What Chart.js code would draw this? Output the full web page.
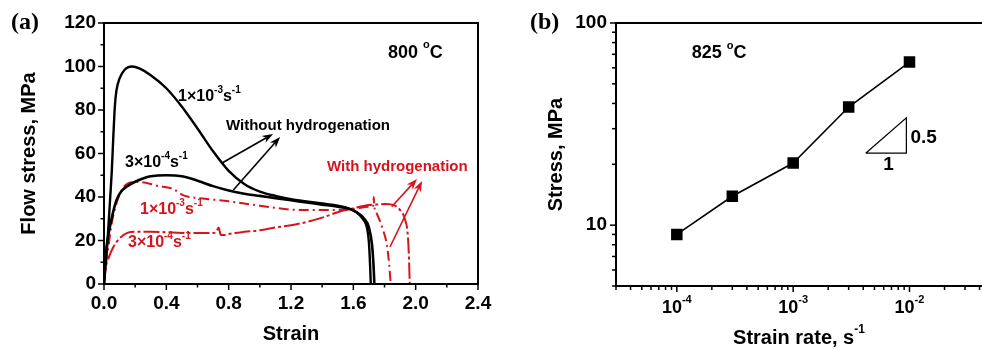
<!DOCTYPE html>
<html>
<head>
<meta charset="utf-8">
<script src="https://cdn.jsdelivr.net/npm/chart.js@4"></script>
<style>
  html, body { margin: 0; padding: 0; background: #fff; }
  #wrap { position: relative; width: 982px; height: 350px; overflow: hidden; }
  #ca { position: absolute; left: 0; top: 0; }
  #cb { position: absolute; left: 500px; top: 0; }
</style>
</head>
<body>
<div id="wrap">
  <canvas id="ca" width="500" height="350"></canvas>
  <canvas id="cb" width="482" height="350"></canvas>
</div>
<script>
const SANS = '"Liberation Sans", Arial, Helvetica, sans-serif';
const SERIF = '"Liberation Serif", "Times New Roman", serif';
const RED = '#d7141c';

// (a) flow curves, 800 C
// without hydrogenation, 1e-3 s-1
const strainHi = [0, 0.02, 0.04, 0.05, 0.06, 0.07, 0.08, 0.1, 0.13, 0.18, 0.23, 0.3, 0.4, 0.5, 0.6, 0.7, 0.8, 0.9, 1.0, 1.1, 1.2, 1.3, 1.4, 1.5, 1.56, 1.62, 1.66, 1.69, 1.70, 1.708, 1.712];
const stressHi = [0, 17, 40, 52, 68, 82, 89, 94.5, 98.3, 100, 99, 96, 90, 81.5, 71.5, 61, 52, 46, 42.5, 40.5, 39, 38, 37, 36, 35, 33, 30, 25, 19, 8, 0];
// without hydrogenation, 3e-4 s-1
const strainLo = [0, 0.01, 0.02, 0.04, 0.06, 0.08, 0.11, 0.15, 0.2, 0.25, 0.3, 0.4, 0.5, 0.6, 0.7, 0.8, 0.9, 1.0, 1.1, 1.2, 1.3, 1.4, 1.5, 1.56, 1.62, 1.67, 1.70, 1.72, 1.73, 1.735];
const stressLo = [0, 13, 19, 27, 33.5, 38.5, 42.5, 45, 47, 48.5, 49.5, 50, 49.5, 47.5, 45, 43, 41.5, 40.5, 39.5, 38.5, 37.5, 36.5, 35.5, 34.8, 33, 30, 26, 18, 8, 0];
// with hydrogenation, 1e-3 s-1
const strainHiH = [0, 0.01, 0.03, 0.05, 0.08, 0.12, 0.16, 0.2, 0.3, 0.35, 0.4, 0.45, 0.48, 0.52, 0.6, 0.7, 0.8, 0.9, 1.0, 1.1, 1.2, 1.3, 1.4, 1.5, 1.6, 1.7, 1.728, 1.731, 1.734, 1.75, 1.79, 1.815, 1.83, 1.84];
const stressHiH = [0, 8, 18, 28, 37, 44, 46.5, 47, 46, 45, 44.5, 43.5, 42, 40.5, 39.5, 38.8, 38, 37, 36, 35, 34.2, 34, 34, 34, 34.5, 35.5, 36, 40, 36, 32.5, 25, 18, 9, 0];
// with hydrogenation, 3e-4 s-1
const strainLoH = [0, 0.01, 0.03, 0.06, 0.1, 0.15, 0.2, 0.3, 0.4, 0.5, 0.6, 0.7, 0.72, 0.735, 0.75, 0.77, 0.8, 0.9, 1.0, 1.1, 1.2, 1.3, 1.4, 1.5, 1.6, 1.7, 1.75, 1.8, 1.85, 1.9, 1.93, 1.95, 1.958, 1.962];
const stressLoH = [0, 7, 12, 17, 21, 23.5, 24, 24, 23.8, 23.5, 23.5, 23.5, 23.8, 26, 22.5, 22.5, 23, 24, 24.7, 26, 27, 28.5, 30.5, 33, 34.8, 36.3, 36.5, 36.8, 36.5, 34, 30, 22, 10, 0];

// (b) stress vs strain rate, 825 C
const rateB = [1e-4, 3e-4, 1e-3, 3e-3, 1e-2];
const stressB = [9.0, 13.9, 20.3, 38.4, 64.1];
const slopeX = [4.2e-3, 9.4e-3, 9.4e-3, 4.2e-3];
const slopeY = [22.7, 22.7, 34.0, 22.7];
const yTicksB = [5, 6, 7, 8, 9, 10, 20, 30, 40, 50, 60, 70, 80, 90, 100];
const xTicksB = [3e-5, 4e-5, 5e-5, 6e-5, 7e-5, 8e-5, 9e-5, 1e-4, 2e-4, 3e-4, 4e-4, 5e-4, 6e-4, 7e-4, 8e-4, 9e-4, 1e-3, 2e-3, 3e-3, 4e-3, 5e-3, 6e-3, 7e-3, 8e-3, 9e-3, 1e-2, 2e-2, 3e-2, 4e-2];
const xMajorB = [1e-4, 1e-3, 1e-2];
const xExpB = ['-4', '-3', '-2'];

const toPts = (xs, ys) => xs.map((v, i) => ({x: v, y: ys[i]}));

const drawRich = (ctx, parts, x, y, size, color, align) => {
  let sup = Math.round(size * 0.62);
  ctx.save();
  ctx.fillStyle = color;
  ctx.textBaseline = 'middle';
  ctx.textAlign = 'left';
  let w = 0;
  parts.forEach(p => {
    ctx.font = 'bold ' + (p[1] ? sup : size) + 'px ' + SANS;
    w += ctx.measureText(p[0]).width;
  });
  let cx = align == 'center' ? x - w / 2 : (align == 'right' ? x - w : x);
  parts.forEach(p => {
    ctx.font = 'bold ' + (p[1] ? sup : size) + 'px ' + SANS;
    ctx.fillText(p[0], cx, p[1] ? y - size * 0.42 : y);
    cx += ctx.measureText(p[0]).width;
  });
  ctx.restore();
};

const seg = (ctx, x1, y1, x2, y2) => {
  ctx.beginPath();
  ctx.moveTo(x1, y1);
  ctx.lineTo(x2, y2);
  ctx.stroke();
};

const arrow = (ctx, x1, y1, x2, y2, color) => {
  let a = Math.atan2(y2 - y1, x2 - x1);
  let c = Math.cos(a), s = Math.sin(a);
  let hl = 11, hw = 4;
  ctx.save();
  ctx.strokeStyle = color;
  ctx.fillStyle = color;
  ctx.lineWidth = 1.6;
  seg(ctx, x1, y1, x2 - hl * 0.7 * c, y2 - hl * 0.7 * s);
  ctx.beginPath();
  ctx.moveTo(x2, y2);
  ctx.lineTo(x2 - hl * c + hw * s, y2 - hl * s - hw * c);
  ctx.lineTo(x2 - hl * 0.7 * c, y2 - hl * 0.7 * s);
  ctx.lineTo(x2 - hl * c - hw * s, y2 - hl * s + hw * c);
  ctx.closePath();
  ctx.fill();
  ctx.restore();
};

const rate3 = [['1×10', 0], ['-3', 1], ['s', 0], ['-1', 1]];
const rate4 = [['3×10', 0], ['-4', 1], ['s', 0], ['-1', 1]];

const panelA = {
  id: 'panelA',
  afterDatasetsDraw(chart) {
    const {ctx, chartArea: ca} = chart;
    const sx = chart.scales.x, sy = chart.scales.y;
    const P = (a, b) => [sx.getPixelForValue(a), sy.getPixelForValue(b)];
    ctx.save();
    ctx.strokeStyle = '#000';
    ctx.lineWidth = 2;
    ctx.strokeRect(ca.left, ca.top, ca.right - ca.left, ca.bottom - ca.top);
    ctx.lineWidth = 1.5;
    sx.ticks.forEach(t => {
      let px = sx.getPixelForValue(t.value);
      seg(ctx, px, ca.bottom, px, ca.bottom + (t.label !== '' ? 6 : 3.5));
    });
    sy.ticks.forEach(t => {
      let py = sy.getPixelForValue(t.value);
      seg(ctx, ca.left, py, ca.left - (t.label !== '' ? 6 : 3.5), py);
    });
    ctx.restore();

    // arrows
    [[0.755, 55.5, 1.085, 69.0], [0.83, 43.2, 1.13, 67.6]].forEach(r => {
      let p = P(r[0], r[1]), q = P(r[2], r[3]);
      arrow(ctx, p[0], p[1], q[0], q[1], '#000');
    });
    [[1.846, 35.5, 2.009, 48.3], [1.835, 17.0, 2.041, 47.4]].forEach(r => {
      let p = P(r[0], r[1]), q = P(r[2], r[3]);
      arrow(ctx, p[0], p[1], q[0], q[1], RED);
    });

    // labels
    let L;
    L = P(1.823, 106.2); drawRich(ctx, [['800 ', 0], ['o', 1], ['C', 0]], L[0], L[1], 18, '#000', 'left');
    L = P(0.475, 86); drawRich(ctx, rate3, L[0], L[1], 16, '#000', 'left');
    L = P(0.783, 72.6); drawRich(ctx, [['Without hydrogenation', 0]], L[0], L[1], 15, '#000', 'left');
    L = P(0.135, 55.6); drawRich(ctx, rate4, L[0], L[1], 16, '#000', 'left');
    L = P(0.231, 34); drawRich(ctx, rate3, L[0], L[1], 16, RED, 'left');
    L = P(0.154, 18.9); drawRich(ctx, rate4, L[0], L[1], 16, RED, 'left');
    L = P(1.431, 53.8); drawRich(ctx, [['With hydrogenation', 0]], L[0], L[1], 15, RED, 'left');

    ctx.save();
    ctx.fillStyle = '#000';
    ctx.font = 'bold 24px ' + SERIF;
    ctx.textBaseline = 'middle';
    ctx.fillText('(a)', 11, 23);
    ctx.restore();
  }
};

const panelB = {
  id: 'panelB',
  afterDatasetsDraw(chart) {
    const {ctx, chartArea: ca} = chart;
    const sx = chart.scales.x, sy = chart.scales.y;
    const P = (a, b) => [sx.getPixelForValue(a), sy.getPixelForValue(b)];
    const isMajor = v => Math.abs(Math.log10(v) - Math.round(Math.log10(v))) < 1e-9;
    ctx.save();
    ctx.strokeStyle = '#000';
    ctx.lineWidth = 2;
    seg(ctx, ca.left, ca.top, ca.right, ca.top);
    ctx.lineWidth = 1.5;
    xTicksB.forEach(v => {
      let px = sx.getPixelForValue(v);
      seg(ctx, px, ca.bottom, px, ca.bottom + (isMajor(v) ? 6 : 4));
    });
    yTicksB.forEach(v => {
      let py = sy.getPixelForValue(v);
      seg(ctx, ca.left, py, ca.left - (isMajor(v) ? 6 : 4), py);
    });
    ctx.restore();

    xMajorB.forEach((v, i) => {
      drawRich(ctx, [['10', 0], [xExpB[i], 1]], sx.getPixelForValue(v), ca.bottom + 22, 18, '#000', 'center');
    });
    drawRich(ctx, [['Strain rate, s', 0], ['-1', 1]], (ca.left + ca.right) / 2, 338, 20, '#000', 'center');

    let L;
    L = P(1.346e-4, 71); drawRich(ctx, [['825 ', 0], ['o', 1], ['C', 0]], L[0], L[1], 18, '#000', 'left');
    L = P(1.02e-2, 27); drawRich(ctx, [['0.5', 0]], L[0], L[1], 19, '#000', 'left');
    L = P(6.6e-3, 19.8); drawRich(ctx, [['1', 0]], L[0], L[1], 19, '#000', 'center');

    ctx.save();
    ctx.fillStyle = '#000';
    ctx.font = 'bold 24px ' + SERIF;
    ctx.textBaseline = 'middle';
    ctx.fillText('(b)', 30, 23);
    ctx.restore();
  }
};

Chart.defaults.font.family = SANS;
Chart.defaults.font.weight = 'bold';
Chart.defaults.color = '#000';

new Chart(document.getElementById('ca'), {
  type: 'line',
  data: {
    datasets: [
      {data: toPts(strainHi, stressHi), borderColor: '#000', borderWidth: 2.4, pointRadius: 0, cubicInterpolationMode: 'monotone'},
      {data: toPts(strainLo, stressLo), borderColor: '#000', borderWidth: 2.6, pointRadius: 0, cubicInterpolationMode: 'monotone'},
      {data: toPts(strainHiH, stressHiH), borderColor: RED, borderWidth: 2, borderDash: [10, 4, 2, 4], pointRadius: 0, cubicInterpolationMode: 'monotone'},
      {data: toPts(strainLoH, stressLoH), borderColor: RED, borderWidth: 2, borderDash: [16, 3, 3, 3], pointRadius: 0, cubicInterpolationMode: 'monotone'}
    ]
  },
  options: {
    responsive: false,
    animation: false,
    events: [],
    layout: {autoPadding: false, padding: {left: 0, right: 22, top: 23, bottom: 0}},
    plugins: {legend: {display: false}, tooltip: {enabled: false}},
    scales: {
      x: {
        type: 'linear', min: 0, max: 2.4,
        afterFit: s => { s.height = 66; },
        grid: {drawOnChartArea: false, drawTicks: false},
        border: {color: '#000', width: 2},
        ticks: {
          stepSize: 0.2, autoSkip: false, maxRotation: 0, padding: 8,
          color: '#000', font: {size: 19, weight: 'bold'},
          callback: v => Math.abs(v / 0.4 - Math.round(v / 0.4)) < 1e-6 ? Number(v).toFixed(1) : ''
        },
        title: {display: true, text: 'Strain', color: '#000', font: {size: 20, weight: 'bold'}, padding: {top: 0, bottom: 4}}
      },
      y: {
        min: 0, max: 120,
        afterFit: s => { s.width = 104; },
        grid: {drawOnChartArea: false, drawTicks: false},
        border: {color: '#000', width: 2},
        ticks: {
          stepSize: 10, autoSkip: false, padding: 8,
          color: '#000', font: {size: 19, weight: 'bold'},
          callback: v => v % 20 === 0 ? String(v) : ''
        },
        title: {display: true, text: 'Flow stress, MPa', color: '#000', font: {size: 20, weight: 'bold'}, padding: {top: 17, bottom: 0}}
      }
    }
  },
  plugins: [panelA]
});

new Chart(document.getElementById('cb'), {
  type: 'line',
  data: {
    datasets: [
      {data: toPts(rateB, stressB), borderColor: '#000', borderWidth: 1.6, pointStyle: 'rect', pointRadius: 7, pointBackgroundColor: '#000', pointBorderColor: '#000', tension: 0},
      {data: toPts(slopeX, slopeY), borderColor: '#000', borderWidth: 1.2, pointRadius: 0, tension: 0}
    ]
  },
  options: {
    responsive: false,
    animation: false,
    events: [],
    layout: {autoPadding: false, padding: {left: 0, right: 0, top: 23, bottom: 0}},
    plugins: {legend: {display: false}, tooltip: {enabled: false}},
    scales: {
      x: {
        type: 'logarithmic', min: 3e-5, max: 0.042,
        afterFit: s => { s.height = 64; },
        afterBuildTicks: s => { s.ticks = xTicksB.map(v => ({value: v})); },
        grid: {drawOnChartArea: false, drawTicks: false},
        border: {color: '#000', width: 2},
        ticks: {display: false}
      },
      y: {
        type: 'logarithmic', min: 5, max: 100,
        afterFit: s => { s.width = 116; },
        afterBuildTicks: s => { s.ticks = yTicksB.map(v => ({value: v})); },
        grid: {drawOnChartArea: false, drawTicks: false},
        border: {color: '#000', width: 2},
        ticks: {
          autoSkip: false, padding: 9,
          color: '#000', font: {size: 19, weight: 'bold'},
          callback: v => (v === 10 || v === 100) ? String(v) : ''
        },
        title: {display: true, text: 'Stress, MPa', color: '#000', font: {size: 20, weight: 'bold'}, padding: {top: 44, bottom: 0}}
      }
    }
  },
  plugins: [panelB]
});
</script>
</body>
</html>
